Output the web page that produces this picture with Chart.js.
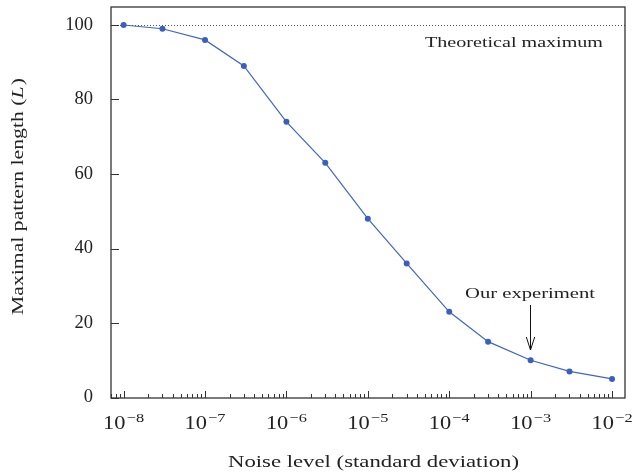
<!DOCTYPE html>
<html>
<head>
<meta charset="utf-8">
<script src="https://cdn.jsdelivr.net/npm/chart.js@4/dist/chart.umd.min.js"></script>
<style>
html,body{margin:0;padding:0;background:#fff;}
#wrap{width:632px;height:473px;position:relative;}
</style>
</head>
<body>
<div id="wrap"><canvas id="c" width="632" height="473"></canvas></div>
<script>
// ---- data ----
const noiseLevels = [1e-8, 3e-8, 1e-7, 3e-7, 1e-6, 3e-6, 1e-5, 3e-5, 1e-4, 3e-4, 1e-3, 3e-3, 1e-2];
const maxPatternLength = [100, 99, 96, 89, 74, 63, 48, 36, 23, 15, 10, 7, 5];
const xDecades = [-8, -7, -6, -5, -4, -3, -2];
const yTickValues = [0, 20, 40, 60, 80, 100];
const theoreticalMax = 100;
const experimentNoise = 1e-3;
const xTitle = 'Noise level (standard deviation)';
const yTitleMain = 'Maximal pattern length (';
const yTitleVar = 'L';
const yTitleEnd = ')';
const maxLabel = 'Theoretical maximum';
const expLabel = 'Our experiment';

const SERIF = '"Liberation Serif", "DejaVu Serif", serif';
const TXT = '#222';

// draw text with a given font size, stretched horizontally to a target width
function stretchText(ctx, text, cx, base, size, target) {
  ctx.font = size + 'px ' + SERIF;
  const w = ctx.measureText(text).width;
  const k = target / w;
  ctx.save();
  ctx.translate(cx, base);
  ctx.scale(k, 1);
  ctx.textAlign = 'center';
  ctx.fillText(text, 0, 0);
  ctx.restore();
}

const decorPlugin = {
  id: 'decor',
  beforeDatasetsDraw(chart) {
    const {ctx, chartArea: {left, right, top, bottom}, scales: {x, y}} = chart;
    ctx.save();
    // dotted theoretical maximum line
    const yy = Math.round(y.getPixelForValue(theoreticalMax)) + 0.5;
    ctx.strokeStyle = '#555';
    ctx.lineWidth = 1;
    ctx.setLineDash([1, 2]);
    ctx.beginPath();
    ctx.moveTo(left, yy);
    ctx.lineTo(right, yy);
    ctx.stroke();
    ctx.setLineDash([]);
    // frame
    ctx.strokeStyle = '#333';
    ctx.lineWidth = 1.3;
    ctx.strokeRect(left, top, right - left, bottom - top);
    // inward ticks on x
    ctx.lineWidth = 1;
    const lo = Math.log10(x.min), hi = Math.log10(x.max);
    for (let e = Math.floor(lo); e <= Math.ceil(hi); e++) {
      for (let m = 1; m <= 9; m++) {
        const v = m * Math.pow(10, e);
        const lv = Math.log10(v);
        if (lv < lo || lv > hi) continue;
        const px = Math.round(x.getPixelForValue(v)) + 0.5;
        const len = (m === 1) ? 7 : 4;
        ctx.beginPath();
        ctx.moveTo(px, bottom);
        ctx.lineTo(px, bottom - len);
        ctx.stroke();
      }
    }
    // inward ticks on y
    yTickValues.forEach(v => {
      const py = Math.round(y.getPixelForValue(v)) + 0.5;
      ctx.beginPath();
      ctx.moveTo(left, py);
      ctx.lineTo(left + 8, py);
      ctx.stroke();
    });
    ctx.restore();
  },
  afterDraw(chart) {
    const {ctx, scales: {x, y}} = chart;
    ctx.save();
    ctx.fillStyle = TXT;
    ctx.textBaseline = 'alphabetic';
    // x tick labels with superscripts
    xDecades.forEach(e => {
      const px = x.getPixelForValue(Math.pow(10, e));
      const base = '10', sup = '\u2212' + Math.abs(e);
      ctx.font = '18.5px ' + SERIF;
      const wb = ctx.measureText(base).width;
      ctx.font = '13.5px ' + SERIF;
      const ws = ctx.measureText(sup).width;
      const gap = 1;
      const nat = wb + gap + ws;
      const k = 41 / nat;
      ctx.save();
      ctx.translate(px, 0);
      ctx.scale(k, 1);
      ctx.textAlign = 'left';
      const x0 = -nat / 2;
      ctx.font = '18.5px ' + SERIF;
      ctx.fillText(base, x0, 429);
      ctx.font = '13.5px ' + SERIF;
      ctx.fillText(sup, x0 + wb + gap, 421.5);
      ctx.restore();
    });
    // x title
    stretchText(ctx, xTitle, 373.5, 466.5, 17, 291);
    // y title (rotated, with italic L)
    ctx.save();
    ctx.translate(23, 196.5);
    ctx.rotate(-Math.PI / 2);
    const sz = 17;
    ctx.font = sz + 'px ' + SERIF;
    const a = ctx.measureText(yTitleMain).width;
    const c = ctx.measureText(yTitleEnd).width;
    ctx.font = 'italic ' + sz + 'px ' + SERIF;
    const b = ctx.measureText(yTitleVar).width + 1;
    const nat = a + b + c;
    ctx.scale(237 / nat, 1);
    let cx = -nat / 2;
    ctx.textAlign = 'left';
    ctx.font = sz + 'px ' + SERIF;
    ctx.fillText(yTitleMain, cx, 0); cx += a;
    ctx.font = 'italic ' + sz + 'px ' + SERIF;
    ctx.fillText(yTitleVar, cx, 0); cx += b;
    ctx.font = sz + 'px ' + SERIF;
    ctx.fillText(yTitleEnd, cx, 0);
    ctx.restore();
    // Theoretical maximum label
    stretchText(ctx, maxLabel, 514, 46.5, 15.5, 178);
    // Our experiment label and arrow
    stretchText(ctx, expLabel, 530, 297.5, 15.5, 130);
    const ax = Math.round(x.getPixelForValue(experimentNoise)) - 0.5;
    ctx.strokeStyle = '#111';
    ctx.lineWidth = 1;
    ctx.beginPath();
    ctx.moveTo(ax, 305);
    ctx.lineTo(ax, 350);
    ctx.stroke();
    ctx.beginPath();
    ctx.moveTo(ax - 4.2, 337);
    ctx.lineTo(ax, 350);
    ctx.lineTo(ax + 4.2, 337);
    ctx.stroke();
    ctx.restore();
  }
};

new Chart(document.getElementById('c'), {
  type: 'line',
  data: {
    datasets: [{
      data: noiseLevels.map((v, i) => ({x: v, y: maxPatternLength[i]})),
      borderColor: '#3f66c4',
      backgroundColor: '#3a5fbe',
      borderWidth: 1.2,
      pointRadius: 3,
      pointHoverRadius: 3,
      pointBorderWidth: 0,
      tension: 0,
      fill: false
    }]
  },
  options: {
    responsive: false,
    animation: false,
    events: [],
    layout: {padding: {top: 7, right: 7, left: 0, bottom: 0}},
    plugins: {legend: {display: false}, tooltip: {enabled: false}},
    scales: {
      x: {
        type: 'logarithmic',
        min: Math.pow(10, -8.141),
        max: Math.pow(10, -1.841),
        grid: {display: false},
        border: {display: false},
        ticks: {display: false},
        afterBuildTicks: s => { s.ticks = xDecades.map(e => ({value: Math.pow(10, e)})); },
        afterFit: s => { s.height = 75; s.paddingLeft = 0; s.paddingRight = 0; }
      },
      y: {
        type: 'linear',
        min: -0.13,
        max: 104.83,
        grid: {display: false, drawTicks: false},
        border: {display: false},
        afterBuildTicks: s => { s.ticks = yTickValues.map(v => ({value: v})); },
        ticks: {
          padding: 18,
          color: TXT,
          font: {family: SERIF, size: 18.5},
          callback: v => String(v)
        },
        afterFit: s => { s.width = 111; s.paddingTop = 0; s.paddingBottom = 0; }
      }
    }
  },
  plugins: [decorPlugin]
});
</script>
</body>
</html>
